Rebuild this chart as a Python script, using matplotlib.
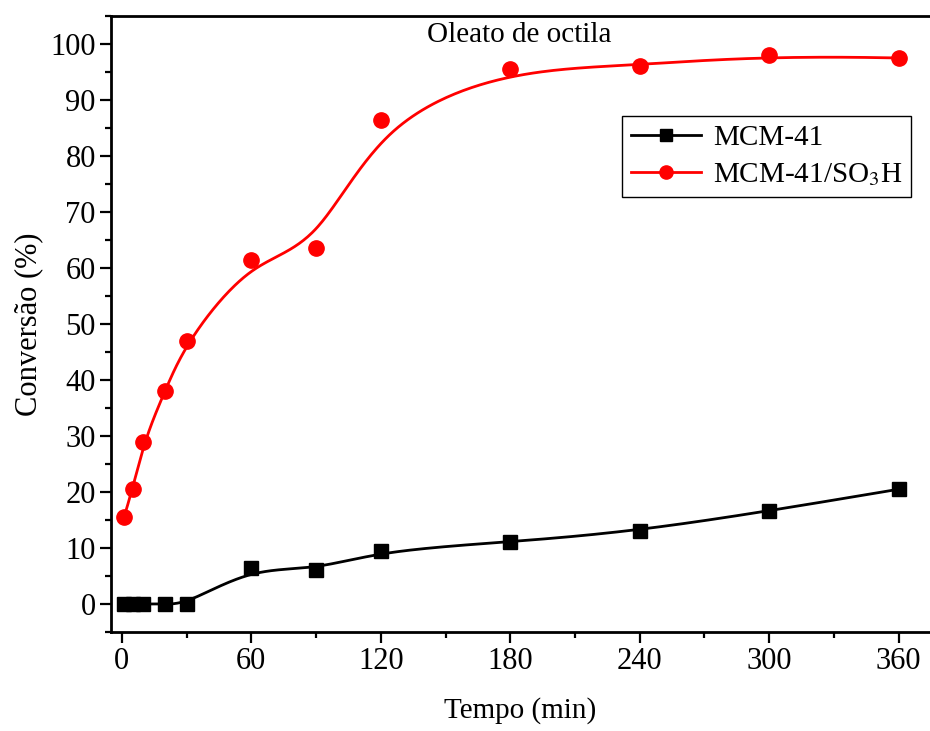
import numpy as np
import matplotlib
matplotlib.use('Agg')
from matplotlib import pyplot as plt
from matplotlib.ticker import MultipleLocator

# dados
tempo = [1, 5, 10, 20, 30, 60, 90, 120, 180, 240, 300, 360]
mcm41 = [0, 0, 0, 0, 0, 6.4, 6.1, 9.5, 11.1, 13.0, 16.6, 20.5]
mcm41_so3h = [15.5, 20.5, 29.0, 38.0, 47.0, 61.4, 63.6, 86.4, 95.5, 96.1, 98.0, 97.5]


# B-spline cubica (como o Origin), pontos como pontos de controle
def bspline(xs, ys, k=3, n=400):
    P = np.column_stack([xs, ys]).astype(float)
    m = len(P)
    knots = np.concatenate([np.zeros(k), np.arange(m - k + 1), np.full(k, m - k)]).astype(float)
    u = np.linspace(0, m - k, n)
    u[-1] -= 1e-9
    N = np.zeros((n, len(knots) - 1))
    for i in range(len(knots) - 1):
        N[:, i] = (u >= knots[i]) & (u < knots[i + 1])
    for d in range(1, k + 1):
        Nn = np.zeros((n, len(knots) - 1 - d))
        for i in range(len(knots) - 1 - d):
            a = knots[i + d] - knots[i]
            b = knots[i + d + 1] - knots[i + 1]
            t1 = (u - knots[i]) / a * N[:, i] if a > 0 else 0
            t2 = (knots[i + d + 1] - u) / b * N[:, i + 1] if b > 0 else 0
            Nn[:, i] = t1 + t2
        N = Nn
    C = N @ P
    return C[:, 0], C[:, 1]


plt.rcParams['font.family'] = ['Liberation Serif', 'DejaVu Serif']
plt.rcParams['mathtext.fontset'] = 'stix'

fig = plt.figure(figsize=(9.3, 7.31), dpi=100)
ax = fig.add_axes([0.1194, 0.1354, 0.8806, 0.8427])

bx, by = bspline(tempo, mcm41)
rx, ry = bspline(tempo, mcm41_so3h)
ax.plot(bx, by, color='black', lw=2)
ax.plot(rx, ry, color='red', lw=2)
ax.plot(tempo, mcm41, 's', color='black', ms=9.5)
ax.plot(tempo, mcm41_so3h, 'o', color='red', ms=11)

# handles da legenda
ax.plot([], [], 's-', color='black', ms=8, lw=2, label='MCM-41')
ax.plot([], [], 'o-', color='red', ms=9.5, lw=2, label='MCM-41/SO$_3$H')

ax.set_xlim(-5, 374.5)
ax.set_ylim(-5, 105)
ax.xaxis.set_major_locator(MultipleLocator(60))
ax.xaxis.set_minor_locator(MultipleLocator(30))
ax.yaxis.set_major_locator(MultipleLocator(10))
ax.yaxis.set_minor_locator(MultipleLocator(5))
ax.tick_params(which='major', direction='out', length=8, width=1.6, labelsize=22, pad=3)
ax.tick_params(which='minor', direction='out', length=4.5, width=1.6)
ax.spines['right'].set_visible(False)
for s in ['left', 'bottom', 'top']:
    ax.spines[s].set_linewidth(2)

ax.set_xlabel('Tempo (min)', fontsize=21, labelpad=15)
ax.set_ylabel('Conversão (%)', fontsize=22, labelpad=5)
ax.text(184, 101.6, 'Oleato de octila', fontsize=21, ha='center', va='center')

leg = ax.legend(loc='upper right', bbox_to_anchor=(0.977, 0.838), fontsize=21,
                fancybox=False, edgecolor='black', framealpha=1,
                handlelength=2.4, borderpad=0.3, labelspacing=0.35,
                handletextpad=0.4, borderaxespad=0)
leg.get_frame().set_linewidth(1)

plt.savefig('out.png')
